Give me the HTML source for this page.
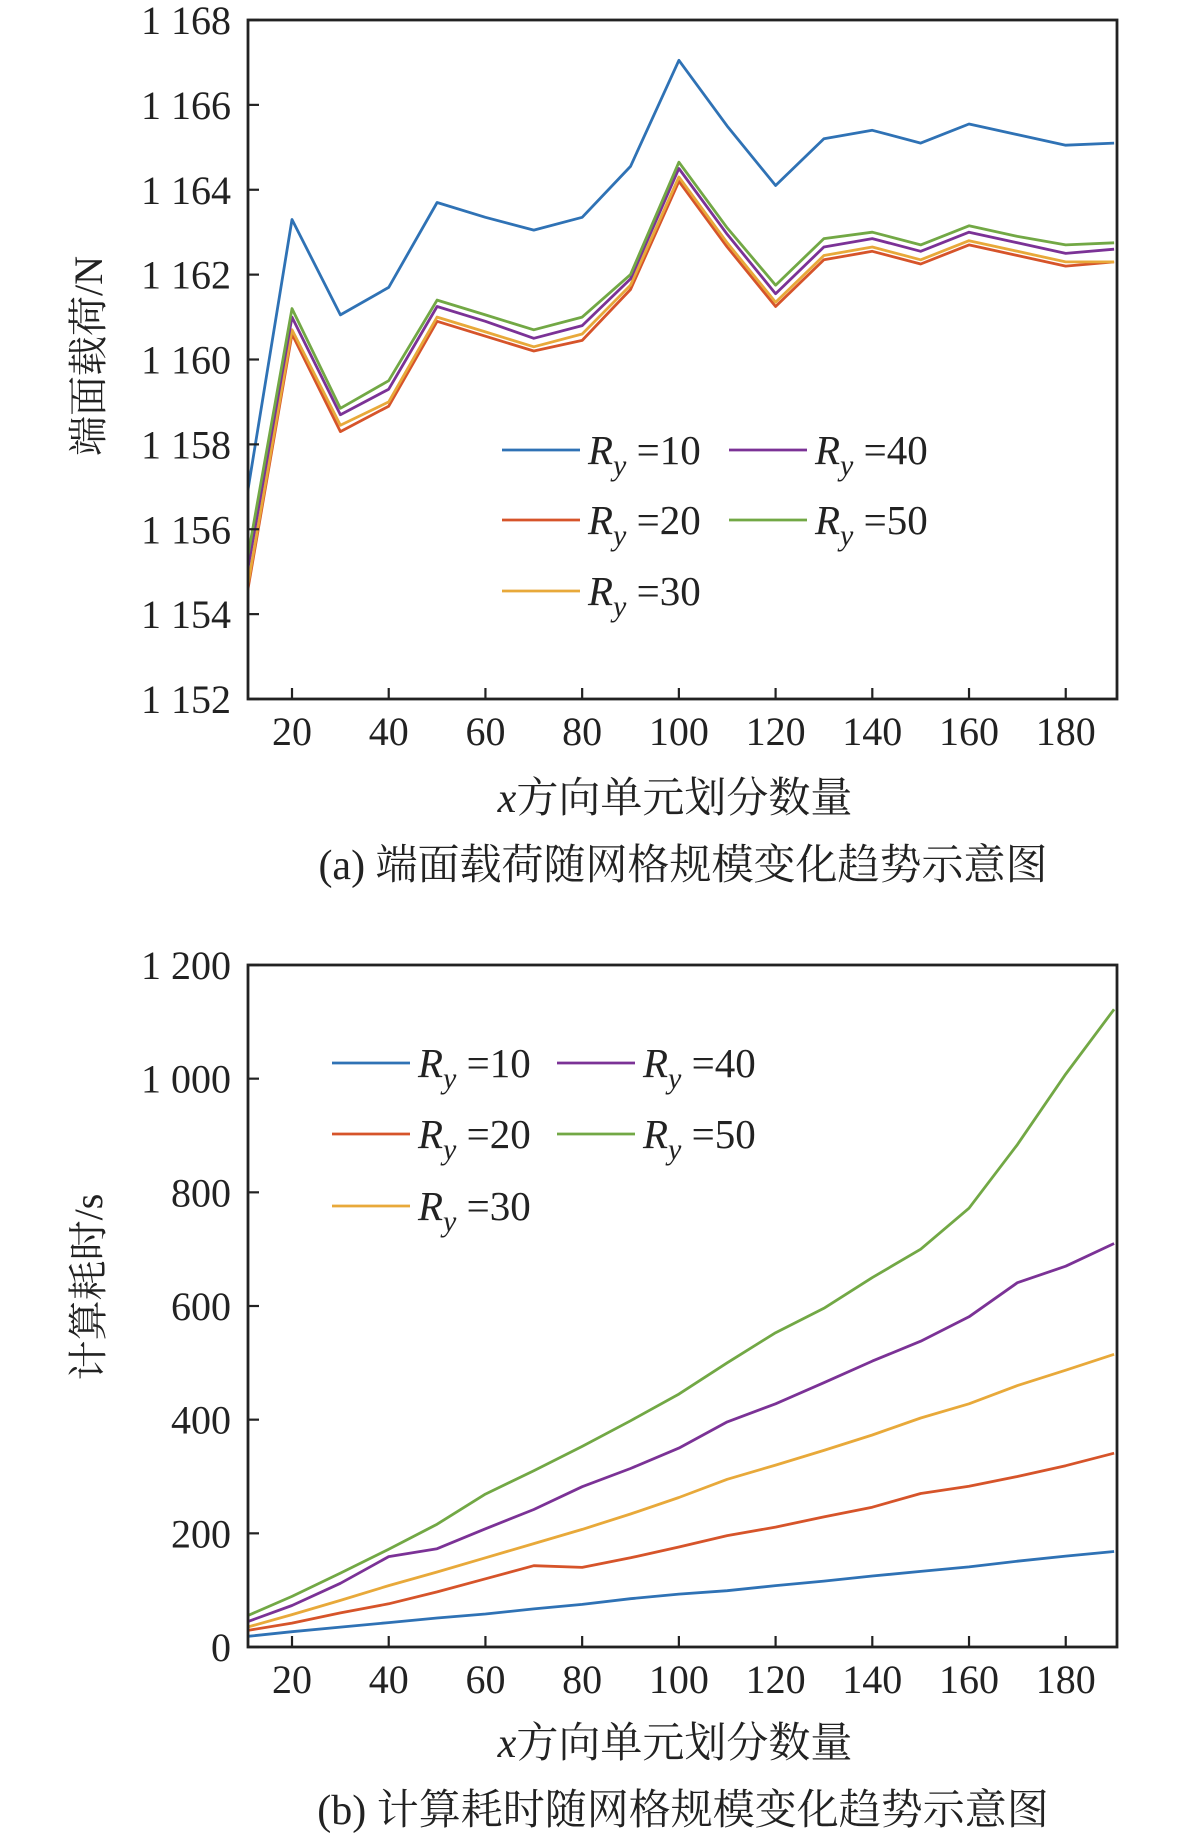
<!DOCTYPE html>
<html><head><meta charset="utf-8"><style>
body{margin:0;background:#fff;}
svg text{font-family:"Liberation Serif","Noto Serif CJK SC",serif;fill:#222;}
</style></head><body>
<svg id="s" width="1181" height="1840" viewBox="0 0 1181 1840" xmlns="http://www.w3.org/2000/svg"></svg>
<script>
const xCats=[10,20,30,40,50,60,70,80,90,100,110,120,130,140,150,160,170,180,190];
const xTicks=[20,40,60,80,100,120,140,160,180];
const seriesNames=["10","20","30","40","50"];
const colors=["#2f72b5","#d6542a","#e8a93a","#7b3296","#72a845"];
const loadTicks=[1152,1154,1156,1158,1160,1162,1164,1166,1168];
const loadTickLabels=["1 152","1 154","1 156","1 158","1 160","1 162","1 164","1 166","1 168"];
const load10=[1156.3,1163.3,1161.05,1161.7,1163.7,1163.35,1163.05,1163.35,1164.55,1167.05,1165.5,1164.1,1165.2,1165.4,1165.1,1165.55,1165.3,1165.05,1165.1];
const load20=[1154.0,1160.6,1158.3,1158.9,1160.9,1160.55,1160.2,1160.45,1161.65,1164.2,1162.65,1161.25,1162.35,1162.55,1162.25,1162.7,1162.45,1162.2,1162.3];
const load30=[1154.1,1160.7,1158.45,1159.0,1161.0,1160.65,1160.3,1160.6,1161.75,1164.3,1162.75,1161.35,1162.45,1162.65,1162.35,1162.8,1162.55,1162.3,1162.3];
const load40=[1154.5,1161.0,1158.7,1159.3,1161.25,1160.9,1160.5,1160.8,1161.9,1164.5,1162.95,1161.55,1162.65,1162.85,1162.55,1163.0,1162.75,1162.5,1162.6];
const load50=[1154.8,1161.2,1158.85,1159.5,1161.4,1161.05,1160.7,1161.0,1162.0,1164.65,1163.1,1161.75,1162.85,1163.0,1162.7,1163.15,1162.9,1162.7,1162.75];
const timeTicks=[0,200,400,600,800,1000,1200];
const timeTickLabels=["0","200","400","600","800","1 000","1 200"];
const time10=[18,27,35,43,51,58,67,75,85,93,99,108,116,125,133,141,151,160,168];
const time20=[28,42,60,76,97,120,143,140,157,176,196,211,229,246,270,283,300,319,341];
const time30=[33,57,82,108,132,157,182,207,234,263,295,320,346,373,403,428,460,487,515];
const time40=[42,73,112,159,173,208,242,282,314,350,396,428,465,503,538,581,641,670,710];
const time50=[52,89,130,172,216,269,310,353,398,445,500,553,596,650,700,772,884,1008,1122];

const NS="http://www.w3.org/2000/svg";
const svg=document.getElementById('s');
function mk(tag,attrs,parent){const e=document.createElementNS(NS,tag);for(const k in attrs)e.setAttribute(k,attrs[k]);(parent||svg).appendChild(e);return e;}

function chart(cfg){
  const g=mk('g',{});
  
  
  const L=248,R=1117,T=cfg.top,B=cfg.bottom;
  const xs=v=>L+(v-10.9)/(190.6-10.9)*(R-L);
  const ys=v=>B-(v-cfg.ymin)/(cfg.ymax-cfg.ymin)*(B-T);
  const defs=mk('defs',{},g);
  const cp=mk('clipPath',{id:cfg.name+'-clip'},defs);
  mk('rect',{x:L,y:T,width:R-L,height:B-T},cp);
  const lg=mk('g',{'clip-path':'url(#'+cfg.name+'-clip)'},g);
  cfg.series.forEach((arr,i)=>{
    const p=mk('polyline',{points:arr.map((v,j)=>xs(xCats[j]).toFixed(1)+','+ys(v).toFixed(1)).join(' '),fill:'none',stroke:colors[i],'stroke-width':2.8,'stroke-linejoin':'round'},lg);
    
    
  });
  const frame=mk('rect',{x:L,y:T,width:R-L,height:B-T,fill:'none',stroke:'#222','stroke-width':2.8},g);
  
  
  xTicks.forEach(t=>{
    const x=xs(t);
    mk('line',{x1:x,x2:x,y1:B,y2:B-11,stroke:'#222','stroke-width':2.2},g);
    const tx=mk('text',{x:x,y:B+46,'text-anchor':'middle','font-size':40},g);
    tx.textContent=t;
    
    
  });
  cfg.yticks.forEach((t,i)=>{
    const y=ys(t);
    mk('line',{x1:L,x2:L+11,y1:y,y2:y,stroke:'#222','stroke-width':2.2},g);
    const tx=mk('text',{x:231,y:y+14,'text-anchor':'end','font-size':40},g);
    tx.textContent=cfg.ylabels[i];
    
    
  });
  const yl=mk('text',{x:0,y:0,transform:'translate(102,'+cfg.ylabelY+') rotate(-90)','text-anchor':'middle','font-size':40},g);
  yl.textContent=cfg.ylabel;
  
  
  const xl=mk('text',{x:675,y:cfg.xlabelY,'text-anchor':'middle','font-size':42},g);
  xl.innerHTML='<tspan font-style="italic">x</tspan>方向单元划分数量';
  
  
  const cap=mk('text',{x:683,y:cfg.capY,'text-anchor':'middle','font-size':42},g);
  cap.textContent=cfg.caption;
  
  
  const leg=mk('g',{},g);
  
  
  const pos=[[0,0],[0,1],[0,2],[1,0],[1,1]];
  cfg.series.forEach((a,i)=>{
    const c=pos[i][0], r=pos[i][1];
    const lx=cfg.leg.cx[c], ly=cfg.leg.ry[r];
    const e=mk('g',{},leg);
    
    
    mk('line',{x1:lx,x2:lx+78,y1:ly,y2:ly,stroke:colors[i],'stroke-width':2.8},e);
    const t=mk('text',{x:lx+86,y:ly+14,'font-size':41},e);
    t.innerHTML='<tspan font-style="italic">R</tspan><tspan font-style="italic" font-size="30" dy="11">y</tspan><tspan dy="-11"> =</tspan>'+seriesNames[i];
  });
}
chart({name:'load-chart',top:20,bottom:699,ymin:1152,ymax:1168,yticks:loadTicks,ylabels:loadTickLabels,
  series:[load10,load20,load30,load40,load50],ylabel:'端面载荷/N',ylabelY:356,xlabelY:812,capY:879,
  caption:'(a) 端面载荷随网格规模变化趋势示意图',leg:{cx:[502,729],ry:[450,520,591]}});
chart({name:'time-chart',top:965,bottom:1647,ymin:0,ymax:1200,yticks:timeTicks,ylabels:timeTickLabels,
  series:[time10,time20,time30,time40,time50],ylabel:'计算耗时/s',ylabelY:1287,xlabelY:1757,capY:1824,
  caption:'(b) 计算耗时随网格规模变化趋势示意图',leg:{cx:[332,557],ry:[1063,1134,1206]}});
</script>
</body></html>
